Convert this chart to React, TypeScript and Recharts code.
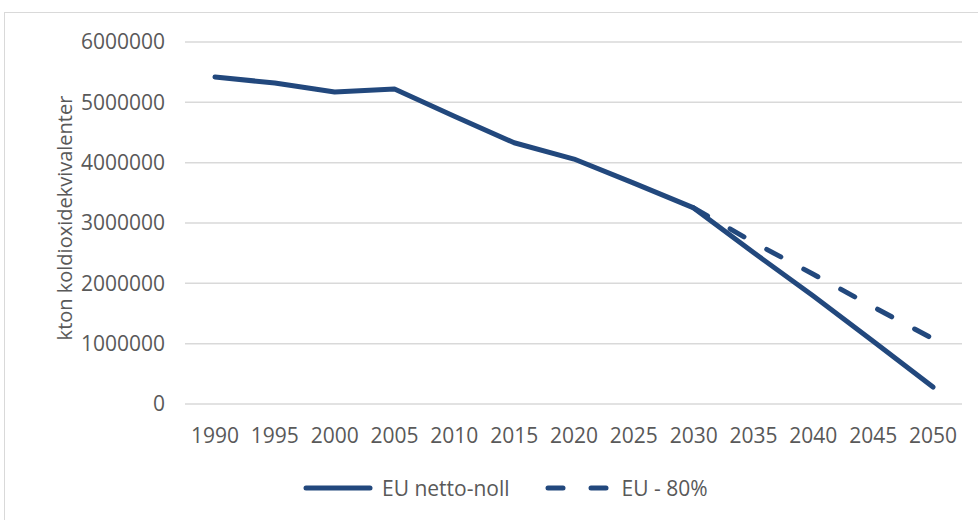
import React from "react";
import { LineChart, Line, XAxis, YAxis, CartesianGrid, Legend } from "recharts";

const years = ["1990", "1995", "2000", "2005", "2010", "2015", "2020", "2025", "2030", "2035", "2040", "2045", "2050"];
const nettoNoll = [5420000, 5320000, 5170000, 5220000, 4770000, 4330000, 4060000, 3660000, 3250000, 2510000, 1790000, 1040000, 280000];
const eu80 = [null, null, null, null, null, null, null, null, 3250000, 2680000, 2150000, 1610000, 1080000];
const yTicks = [0, 1000000, 2000000, 3000000, 4000000, 5000000, 6000000];

const seriesNames = { netto: "EU netto-noll", eu80: "EU - 80%" };

const data = years.map((y, i) => ({ year: y, netto: nettoNoll[i], eu80: eu80[i] }));

const COLOR = "#22487d";
const FONT = "'Open Sans', sans-serif";
const TEXT = "#595959";

const LegendContent = () => (
  <div style={{ display: "flex", alignItems: "center", height: 29, fontFamily: FONT, fontSize: 21, color: TEXT, whiteSpace: "nowrap" }}>
    <svg width={70} height={8} style={{ marginRight: 9 }}>
      <line x1={3} y1={4} x2={67} y2={4} stroke={COLOR} strokeWidth={5} strokeLinecap="round" />
    </svg>
    <span>{seriesNames.netto}</span>
    <svg width={64} height={8} style={{ marginLeft: 35, marginRight: 13 }}>
      <line x1={3} y1={4} x2={18} y2={4} stroke={COLOR} strokeWidth={5} strokeLinecap="round" />
      <line x1={46} y1={4} x2={61} y2={4} stroke={COLOR} strokeWidth={5} strokeLinecap="round" />
    </svg>
    <span>{seriesNames.eu80}</span>
  </div>
);

const YLabel = (props: any) => {
  const vb = props.viewBox || {};
  const cx = 72;
  const cy = (vb.y ?? 42) + (vb.height ?? 362) / 2 - 5;
  return (
    <text x={cx} y={cy} transform={`rotate(-90 ${cx} ${cy})`} textAnchor="middle" fill={TEXT} fontFamily={FONT} fontSize={20}>
      kton koldioxidekvivalenter
    </text>
  );
};

export default function App() {
  return (
    <div style={{ position: "absolute", left: 0, top: 0, width: 978, height: 520, overflow: "hidden", background: "#fff" }}>
      <div style={{ position: "absolute", left: 4, top: 12, width: 1000, height: 540, border: "1px solid #d9d9d9", boxSizing: "border-box" }} />
      <LineChart width={978} height={520} data={data} margin={{ top: 42, right: 16, bottom: 86, left: 0 }} style={{ position: "absolute", left: 0, top: 0 }}>
        <CartesianGrid vertical={false} stroke="#d9d9d9" strokeWidth={1.5} />
        <XAxis
          dataKey="year"
          height={30}
          padding={{ left: 30, right: 29 }}
          axisLine={false}
          tickLine={false}
          tickSize={0}
          tickMargin={24}
          interval={0}
          tick={{ fill: TEXT, fontFamily: FONT, fontSize: 21 }}
        />
        <YAxis
          width={185}
          domain={[0, 6000000]}
          ticks={yTicks}
          interval={0}
          axisLine={false}
          tickLine={false}
          tickSize={0}
          tickMargin={20}
          tick={{ fill: TEXT, fontFamily: FONT, fontSize: 21 }}
          label={{ content: YLabel }}
        />
        <Legend
          verticalAlign="middle"
          align="center"
          content={LegendContent}
          wrapperStyle={{ top: 473, left: 303, width: "auto" }}
        />
        <Line
          dataKey="netto"
          name={seriesNames.netto}
          stroke={COLOR}
          strokeWidth={5}
          strokeLinecap="round"
          strokeLinejoin="round"
          dot={false}
          activeDot={false}
          isAnimationActive={false}
        />
        <Line
          dataKey="eu80"
          name={seriesNames.eu80}
          stroke={COLOR}
          strokeWidth={5}
          strokeLinecap="round"
          strokeLinejoin="round"
          strokeDasharray="16 26"
          dot={false}
          activeDot={false}
          isAnimationActive={false}
        />
      </LineChart>
    </div>
  );
}
